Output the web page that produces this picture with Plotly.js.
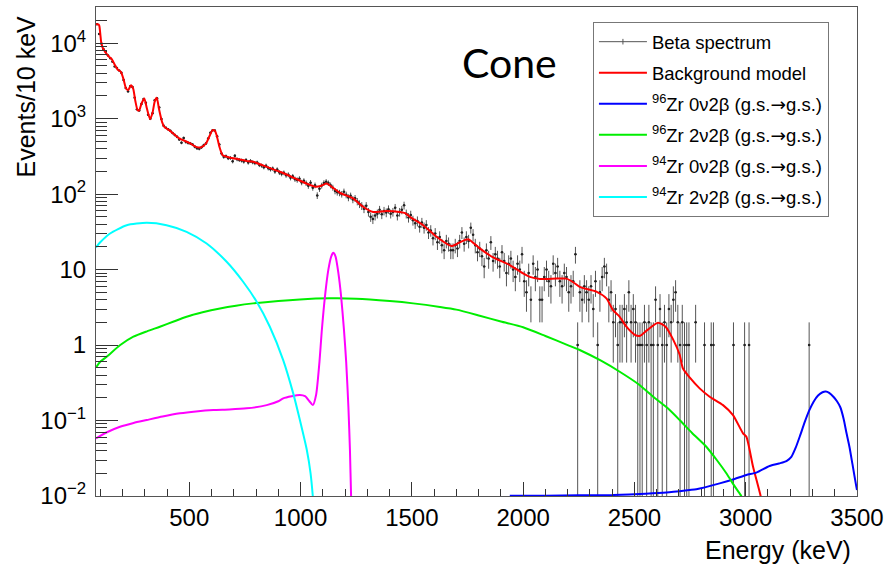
<!DOCTYPE html>
<html>
<head>
<meta charset="utf-8">
<script src="https://cdn.plot.ly/plotly-3.0.1.min.js"></script>
<style>html,body{margin:0;padding:0;background:#fff;}#chart{width:889px;height:567px;}</style>
</head>
<body>
<div id="chart"></div>
<script>
// Beta spectrum: counts per 10 keV bin, first bin 80-90 keV (0 = empty bin)
const binStart = 80;
const binWidth = 10;
const betaCounts = [
  17900,13200,9900,8300,7700,6900,6300,5700,4900,4700,
  4350,4050,3250,2550,2300,2700,2620,1900,1330,1280,
  1560,1830,1620,1130,1000,1180,1760,1860,1410,990,
  805,760,722,690,645,610,575,530,480,555,
  490,478,470,455,425,405,400,418,445,470,
  545,650,700,695,585,455,345,312,318,300,
  302,272,322,290,284,279,270,283,262,275,
  265,258,262,244,239,228,238,221,214,218,
  200,212,193,186,192,178,181,165,172,158,
  154,160,143,150,140,129,142,122,131,96,
  118,130,141,146,140,131,122,110,106,104,
  100,108,98,90,95,85,88,80,74,70,
  64,70,58,50,47,52,55,62,54,60,
  57,63,55,58,66,52,58,62,71,55,
  49,53,45,41,44,37,42,36,39,31,
  33,26,30,23,27,21,18,24,22,18,
  18,21,19,24,31,22,27,24,36,29,
  21,17,19,15,11,18,14,23,13,16,
  14,11,17,13,9,12,14,10,8,12,
  10,16,7,5,9,4,12,8,10,4,
  4,8,10,7,6,12,9,11,7,6,
  9,8,5,6,7,16,1,5,4,6,
  5,4,6,3,7,1,5,8,11,9,
  4,5,2,3,1,2,2,3,2,5,
  2,3,2,1,1,1,2,1,2,1,
  1,4,1,3,1,2,1,3,2,4,
  5,2,1,2,1,1,1,0,0,2,
  0,0,0,1,0,0,1,1,0,0,
  0,0,0,0,0,0,1,0,0,0,
  0,1,0,1,0,0,0,0,0,0,
  0,0,0,0,0,0,0,0,0,0,
  0,0,0,0,0,0,0,0,0,0,
  1,0,0,0,0,0,0,0,0,0,
  0,0,0,0,0,0,0,0,0,0,
  0,0
];

// Background model (keV, events/10 keV)
const bkgE = [81,92,96,100,104,110,118,126,140,153,165,178,193,205,216,226,238,248,258,268,275,286,298,310,324,335,345,354,365,378,388,410,430,455,500,530,553,575,590,605,615,623,635,650,680,728,755,787,848,907,967,1027,1069,1090,1117,1140,1177,1236,1281,1326,1386,1446,1470,1500,1551,1611,1678,1715,1753,1805,1865,1940,2000,2030,2075,2150,2195,2225,2254,2290,2329,2374,2404,2434,2464,2500,2524,2560,2606,2640,2673,2703,2718,2748,2793,2838,2898,2943,2988,3003,3033,3067,3080];
const bkgV = [17800,17800,17000,13500,10500,8900,8000,7400,6600,6080,5200,4490,4170,3300,2510,2400,2780,2500,1700,1297,1290,1600,1850,1350,985,1200,1700,1888,1300,900,778,705,630,547,479,423,417,469,580,705,690,604,430,329,306,288,276,268,230,198,166,138,125,128,138,125,104,88,68,58,60,58,56,48,38.8,27.2,20.5,23,25.3,19.1,14.5,11.5,8.9,8.0,7.5,7.6,7.6,6.8,5.9,5.5,5.1,4.16,2.9,2.37,1.75,1.38,1.32,1.6,1.98,1.75,1.2,0.75,0.49,0.373,0.267,0.207,0.16,0.118,0.0676,0.061,0.0244,0.01,0.006];

// 96Zr 0v2b
const zr96_0vE = [1940,2100,2250,2404,2550,2644,2748,2778,2883,2950,3003,3048,3107,3150,3183,3205,3225,3245,3265,3285,3305,3325,3345,3360,3375,3395,3410,3425,3440,3452,3466,3480,3497,3500];
const zr96_0vV = [0.0101,0.0101,0.0102,0.0103,0.0107,0.0111,0.012,0.0123,0.0147,0.0168,0.019,0.0204,0.025,0.027,0.029,0.033,0.044,0.064,0.095,0.135,0.178,0.215,0.237,0.242,0.232,0.205,0.18,0.15,0.105,0.07,0.045,0.026,0.0133,0.012];

// 96Zr 2v2b
const zr96_2vE = [81,100,129,190,249,310,368,430,488,560,638,710,787,900,997,1132,1250,1401,1506,1626,1700,1805,1900,2000,2100,2200,2254,2350,2434,2520,2584,2650,2703,2760,2823,2870,2913,2950,2980,2995];
const zr96_2vV = [0.507,0.6,0.70,1.0,1.29,1.52,1.75,2.05,2.37,2.72,3.06,3.33,3.57,3.85,4.03,4.16,4.12,3.83,3.57,3.2,2.95,2.45,2.05,1.72,1.32,1.0,0.86,0.62,0.443,0.3,0.207,0.145,0.1016,0.068,0.045,0.03,0.02,0.0135,0.01,0.008];

// 94Zr 0v2b
const zr94_0vE = [81,130,189,250,309,380,458,530,608,680,758,848,900,922,960,997,1020,1040,1055,1070,1085,1095,1110,1125,1138,1147,1157,1170,1182,1195,1205,1215,1222,1227,1232];
const zr94_0vV = [0.058,0.07,0.0828,0.093,0.1016,0.113,0.1245,0.132,0.1377,0.14,0.145,0.160,0.18,0.197,0.21,0.218,0.21,0.18,0.16,0.22,0.6,1.5,4.5,10,15,16.7,15,9,4.5,1.6,0.6,0.15,0.04,0.01,0.004];

// 94Zr 2v2b
const zr94_2vE = [81,100,144,219,309,398,488,578,668,742,803,862,922,967,997,1028,1045,1055,1062];
const zr94_2vV = [19.7,23,30.1,38.8,41.7,38.8,31.7,22.2,12.7,6.9,3.75,1.75,0.633,0.229,0.1016,0.041,0.02,0.01,0.005];

const ARROW = '<span style="font-family:DejaVu Sans">\u2192</span>';
const legendNames = ['Beta spectrum','Background model',
  '<sup>96</sup>Zr 0\u03bd2\u03b2 (g.s.' + ARROW + 'g.s.)',
  '<sup>96</sup>Zr 2\u03bd2\u03b2 (g.s.' + ARROW + 'g.s.)',
  '<sup>94</sup>Zr 0\u03bd2\u03b2 (g.s.' + ARROW + 'g.s.)',
  '<sup>94</sup>Zr 2\u03bd2\u03b2 (g.s.' + ARROW + 'g.s.)'];

const yTickVals = [0.01,0.1,1,10,100,1000,10000];
const yTickText = ['10<sup>\u22122</sup>','10<sup>\u22121</sup>','1','10','10<sup>2</sup>','10<sup>3</sup>','10<sup>4</sup>'];

const FONT = 'Liberation Sans, Arial, Helvetica, sans-serif';
const TICKC = '#333';
const yMinor = [];
for (let d = -2; d <= 4; d++) for (let k = 2; k <= 9; k++) yMinor.push(k * Math.pow(10, d));

const dataY = betaCounts.map(c => c > 0 ? c : null);

function curve(x, y, color, name, grp) {
  return {type:'scatter', mode:'lines', x:x, y:y, name:name, legendgroup:grp,
    line:{color:color, width:2, shape:'spline', smoothing:0.6}, hoverinfo:'skip'};
}

const traces = [
  {type:'scatter', mode:'markers', x0: binStart + binWidth/2, dx: binWidth, y: dataY,
   marker:{size:2.5, color:'#222'}, showlegend:false, legendgroup:'g0',
   error_y:{type:'sqrt', color:'#555', thickness:1, width:0},
   error_x:{type:'constant', value: binWidth/2, color:'#333', thickness:1, width:0}},
  {type:'scatter', mode:'lines+markers', x:[null], y:[null], name: legendNames[0], legendgroup:'g0',
   line:{color:'#555', width:1}, marker:{symbol:'line-ns-open', size:4, color:'#555', line:{width:1,color:'#555'}}},
  curve(bkgE, bkgV, '#ff0000', legendNames[1], 'g1'),
  curve(zr96_0vE, zr96_0vV, '#0000ff', legendNames[2], 'g2'),
  curve(zr96_2vE, zr96_2vV, '#00ee00', legendNames[3], 'g3'),
  curve(zr94_0vE, zr94_0vV, '#ff00ff', legendNames[4], 'g4'),
  curve(zr94_2vE, zr94_2vV, '#00ffff', legendNames[5], 'g5')
];

const layout = {
  width: 889, height: 567,
  margin: {l:96, r:32, t:7, b:71},
  paper_bgcolor:'#fff', plot_bgcolor:'#fff',
  font: {family: FONT, color:'#000'},
  showlegend: true,
  legend: {x:0.653, y:0.969, xanchor:'left', yanchor:'top', bgcolor:'#fff',
    bordercolor:'#777', borderwidth:1, font:{size:18.5, family:FONT}, tracegroupgap:4,
    itemwidth:48, traceorder:'grouped'},
  xaxis: {type:'linear', range:[81,3500], showgrid:false, zeroline:false,
    showline:true, mirror:true, linecolor:'#555', linewidth:1, layer:'above traces',
    ticks:'inside', ticklen:14, tickwidth:1, tickcolor:TICKC, tick0:0, dtick:500,
    tickfont:{size:24, family:FONT},
    minor:{ticks:'inside', ticklen:7, tickwidth:1, dtick:100, tick0:0, tickcolor:TICKC, showgrid:false}},
  yaxis: {type:'log', range:[-2, 4.48], showgrid:false, zeroline:false,
    showline:true, mirror:true, linecolor:'#555', linewidth:1, layer:'above traces',
    ticks:'inside', ticklen:22, tickwidth:1, tickcolor:TICKC,
    tickmode:'array', tickvals:yTickVals, ticktext:yTickText,
    tickfont:{size:24, family:FONT}, ticklabelstandoff:4,
    minor:{ticks:'inside', ticklen:11, tickwidth:1, tickmode:'array', tickvals:yMinor, tickcolor:TICKC, showgrid:false}},
  annotations: [
    {text:'Events/10 keV', xref:'paper', yref:'paper', x:-0.092, y:0.817, xanchor:'center', yanchor:'middle',
     textangle:-90, showarrow:false, font:{size:25, family:FONT}},
    {text:'Energy (keV)', xref:'paper', yref:'paper', x:0.9947, y:-0.110, xanchor:'right', yanchor:'middle',
     showarrow:false, font:{size:25, family:FONT}},
    {text:'Cone', xref:'paper', yref:'paper', x:0.544, y:0.886, xanchor:'center', yanchor:'middle',
     showarrow:false, font:{size:41, family:'Lato, Liberation Sans, sans-serif'}}
  ]
};

Plotly.newPlot('chart', traces, layout, {staticPlot:true, displayModeBar:false});
</script>
</body>
</html>
